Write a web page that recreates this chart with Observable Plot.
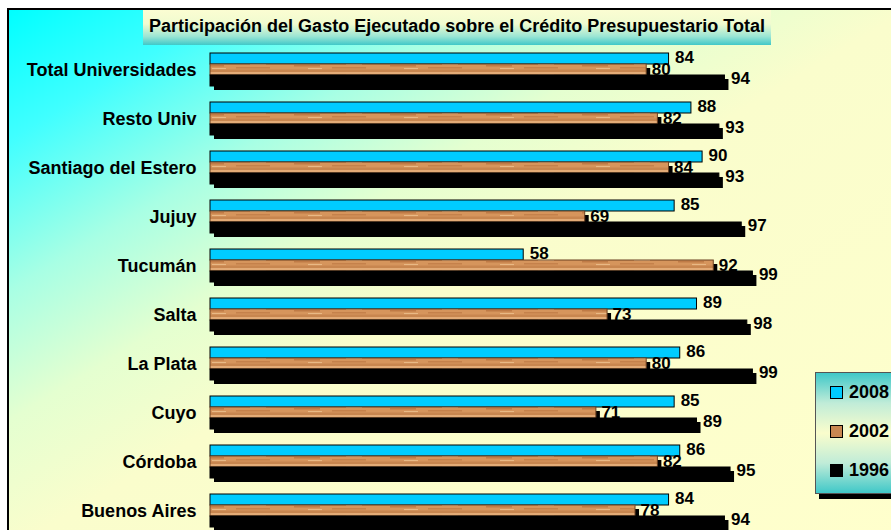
<!DOCTYPE html>
<html><head><meta charset="utf-8">
<script src="https://cdn.jsdelivr.net/npm/d3@7"></script>
<script src="https://cdn.jsdelivr.net/npm/@observablehq/plot@0.6"></script>
<style>
html,body{margin:0;padding:0;width:891px;height:530px;overflow:hidden;background:#fff;font-family:"Liberation Sans",Arial,sans-serif;}
#frame{position:absolute;left:7px;top:8px;width:900px;height:540px;border:2px solid #000;
 background:linear-gradient(to bottom right,#00ffff 0%,#40ffff 12%,#a8ffe4 26%,#e4ffd0 38%,#fafdcc 50%,#ffffcc 100%);}
#chart{position:absolute;left:0;top:0;}
#title{position:absolute;left:143px;top:10px;width:628px;height:35px;
 background:linear-gradient(to bottom,#fbfdd2 0%,#f0fbd0 40%,#9ce6d4 75%,#40c8c8 100%);
 font-weight:bold;font-size:18px;line-height:33px;text-align:center;color:#000;white-space:nowrap;}
#legend{position:absolute;left:815px;top:372px;width:110px;height:120px;border:1px solid #555;
 background:linear-gradient(to bottom,#40c8c8 0%,#c0ecd8 25%,#fafdcc 50%,#c0ecd8 75%,#40c8c8 100%);
 box-shadow:4px 5px 0 #000;}
.item{position:relative;height:39px;display:flex;align-items:center;font-weight:bold;font-size:18px;}
.sw{width:11px;height:11px;border:1px solid #000;margin-left:14px;margin-right:6px;}
</style></head>
<body>
<div id="frame"></div>
<div id="chart"></div>
<div id="title">Participación del Gasto Ejecutado sobre el Crédito Presupuestario Total</div>
<div id="legend"></div>
<script>
const categories = ["Total Universidades","Resto Univ","Santiago del Estero","Jujuy","Tucumán","Salta","La Plata","Cuyo","Córdoba","Buenos Aires"];
const series = ["2008","2002","1996"];
const v2008 = [84,88,90,85,58,89,86,85,86,84];
const v2002 = [80,82,84,69,92,73,80,71,82,78];
const v1996 = [94,93,93,97,99,98,99,89,95,94];
const seriesFill = {"2008":"#00ccff","2002":"url(#wood)","1996":"#000000"};
const seriesStroke = {"2008":"#000000","2002":"#6b4020","1996":"#000000"};
const swatchFill = {"2008":"#00ccff","2002":"#c98752","1996":"#000000"};

const values = {"2008":v2008,"2002":v2002,"1996":v1996};
const data = [];
categories.forEach((c,i)=>series.forEach(s=>data.push({cat:c, serie:s, value:values[s][i]})));
const bySerie = s => data.filter(d=>d.serie===s);

const chart = Plot.plot({
  width:891, height:544,
  marginLeft:199, marginRight:133, marginTop:36, marginBottom:0,
  style:{background:"transparent", fontFamily:"'Liberation Sans', Arial, sans-serif", fontSize:"17px", fontWeight:"bold", overflow:"visible"},
  x:{domain:[0,100], axis:null},
  y:{domain:series, axis:null, padding:0},
  fy:{domain:categories, paddingInner:0.336, paddingOuter:0.336, label:null},
  marks:[
    Plot.axisFy({anchor:"left", tickSize:0, tickPadding:3, label:null, fontSize:18, fontWeight:"bold", fill:"#000"}),
    Plot.barX(data.filter(d=>d.serie!=="2008"), {x:"value", y:"serie", fy:"cat", fill:"#000", insetLeft:11, dx:4, dy:4}),
    ...series.map(s=>Plot.barX(bySerie(s), {x:"value", y:"serie", fy:"cat", fill:seriesFill[s], stroke:seriesStroke[s], strokeWidth:1, insetLeft:11})),
    Plot.text(bySerie("2008"), {x:"value", y:"serie", fy:"cat", text:"value", textAnchor:"start", dx:6, dy:-1, fill:"#000"}),
    Plot.text(bySerie("2002"), {x:"value", y:"serie", fy:"cat", text:"value", textAnchor:"start", dx:5, fill:"#000"}),
    Plot.text(bySerie("1996"), {x:"value", y:"serie", fy:"cat", text:"value", textAnchor:"start", dx:6, dy:-2, fill:"#000"})
  ]
});
const defs = document.createElementNS("http://www.w3.org/2000/svg","defs");
defs.innerHTML = `<pattern id="wood" patternUnits="userSpaceOnUse" width="96" height="11">
  <rect width="96" height="11" fill="#d6955c"/>
  <rect y="0" width="96" height="2.5" fill="#e3ab76"/>
  <rect x="6" y="4" width="26" height="1.5" fill="#b8733e" opacity="0.75"/>
  <rect x="44" y="6" width="34" height="1.5" fill="#bf7a45" opacity="0.75"/>
  <rect x="58" y="2.5" width="16" height="1.5" fill="#ecbd8a"/>
  <rect x="20" y="7" width="14" height="1.2" fill="#e9b985"/>
  <rect y="8.5" width="96" height="2.5" fill="#c8864f"/>
</pattern>`;
chart.insertBefore(defs, chart.firstChild);
document.getElementById("chart").appendChild(chart);

const legend = document.getElementById("legend");
series.forEach(s=>{
  const it = document.createElement("div"); it.className="item";
  const sw = document.createElement("div"); sw.className="sw"; sw.style.background = swatchFill[s];
  const tx = document.createElement("span"); tx.textContent = s;
  it.appendChild(sw); it.appendChild(tx); legend.appendChild(it);
});
</script>
</body></html>
